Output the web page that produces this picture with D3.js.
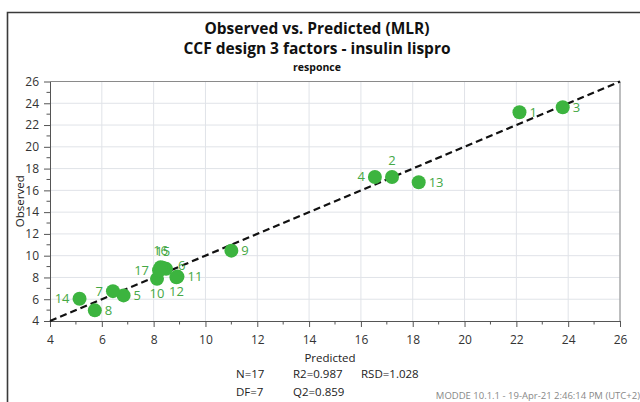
<!DOCTYPE html>
<html>
<head>
<meta charset="utf-8">
<script src="https://cdn.jsdelivr.net/npm/d3@7"></script>
<style>
  body { margin: 0; background: #fff; }
  svg { display: block; font-family: 'Open Sans', 'Noto Sans', sans-serif; }
</style>
</head>
<body>
<svg id="chart"></svg>
<script>
// run numbers, predicted (x) and observed (y) values
const runs = [1, 2, 3, 4, 5, 6, 7, 8, 9, 10, 11, 12, 13, 14, 15, 16, 17]
const predicted = [22.12, 17.2, 23.79, 16.54, 6.84, 8.48, 6.43, 5.73, 11.0, 8.13, 8.92, 8.88, 18.23, 5.14, 8.35, 8.27, 8.21]
const observed = [23.17, 17.23, 23.63, 17.23, 6.35, 8.79, 6.74, 4.98, 10.46, 7.87, 8.08, 8.02, 16.74, 6.04, 8.88, 8.94, 8.66]
// where each run label sits relative to its point
const labelSide = ['right', 'above', 'right', 'left', 'right', 'rightUp', 'left', 'right', 'right', 'below', 'right', 'below', 'right', 'left', 'above', 'above', 'left']

const xTicks = [4, 6, 8, 10, 12, 14, 16, 18, 20, 22, 24, 26]
const yTicks = [4, 6, 8, 10, 12, 14, 16, 18, 20, 22, 24, 26]
const stats = [['N=17', 'R2=0.987', 'RSD=1.028'], ['DF=7', 'Q2=0.859', '']]

const width = 640
const height = 402
const margin = { top: 81.5, right: 20, bottom: 81, left: 50 }

const svg = d3.select('#chart').attr('width', width).attr('height', height)
svg.append('rect').attr('width', width).attr('height', height).attr('fill', '#fff')

// outer frame (runs off the right/bottom edges)
svg.append('path')
  .attr('d', `M7.5,${height + 2}V12.5H${width + 2}`)
  .attr('fill', 'none')
  .attr('stroke', '#3a3a3a')
  .attr('stroke-width', 1.6)

const x = d3.scaleLinear().domain([4, 26]).range([margin.left, width - margin.right])
const y = d3.scaleLinear().domain([4, 26]).range([height - margin.bottom, margin.top])

// grid
const grid = svg.append('g').attr('class', 'grid')
grid.selectAll('.gx').data(xTicks.slice(1)).enter().append('line')
  .attr('x1', d => x(d)).attr('x2', d => x(d))
  .attr('y1', y(4)).attr('y2', y(26))
  .attr('stroke', '#e0e3e8')
grid.selectAll('.gy').data(yTicks.slice(1)).enter().append('line')
  .attr('y1', d => y(d)).attr('y2', d => y(d))
  .attr('x1', x(4)).attr('x2', x(26))
  .attr('stroke', '#e0e3e8')
// plot box top/right
svg.append('path')
  .attr('d', `M${x(4)},${y(26)}H${x(26)}V${y(4)}`)
  .attr('fill', 'none')
  .attr('stroke', '#8a8a8a')

// axes
const minorX = d3.range(5, 26, 2)
const xAxis = svg.append('g').attr('transform', `translate(0,${y(4)})`)
xAxis.call(d3.axisBottom(x).tickValues(xTicks).tickSize(6).tickSizeOuter(0).tickPadding(8))
xAxis.selectAll('.minor').data(minorX).enter().append('line')
  .attr('x1', d => x(d)).attr('x2', d => x(d))
  .attr('y1', 0).attr('y2', 3.5)
  .attr('stroke', '#555')
const yAxis = svg.append('g').attr('transform', `translate(${x(4)},0)`)
yAxis.call(d3.axisLeft(y).tickValues(yTicks).tickSize(6).tickSizeOuter(0).tickPadding(5))
yAxis.selectAll('.minor').data(minorX).enter().append('line')
  .attr('y1', d => y(d)).attr('y2', d => y(d))
  .attr('x1', 0).attr('x2', -3.5)
  .attr('stroke', '#555')
svg.selectAll('.domain').attr('stroke', '#555')
svg.selectAll('.tick line').attr('stroke', '#555')
svg.selectAll('.tick text')
  .attr('font-size', 12)
  .attr('fill', '#333')
  .attr('font-family', "'Open Sans', sans-serif")

// 1:1 line
svg.append('line')
  .attr('x1', x(4)).attr('y1', y(4))
  .attr('x2', x(26)).attr('y2', y(26))
  .attr('stroke', '#111')
  .attr('stroke-width', 2.2)
  .attr('stroke-dasharray', '7,4')

const points = runs.map((r, i) => ({ run: r, px: predicted[i], ob: observed[i], side: labelSide[i] }))

// labels first so the points cover them like the original
const offs = {
  right: [10, 4.5, 'start'],
  rightUp: [12, 1, 'start'],
  left: [-10, 4.5, 'end'],
  above: [0, -12, 'middle'],
  below: [0, 19, 'middle']
}
svg.append('g').selectAll('text').data(points).enter().append('text')
  .attr('x', d => x(d.px) + offs[d.side][0])
  .attr('y', d => y(d.ob) + offs[d.side][1])
  .attr('text-anchor', d => offs[d.side][2])
  .attr('font-size', 13)
  .attr('fill', '#45a845')
  .text(d => d.run)

svg.append('g').selectAll('circle').data(points).enter().append('circle')
  .attr('cx', d => x(d.px))
  .attr('cy', d => y(d.ob))
  .attr('r', 7)
  .attr('fill', '#3cb43f')

// titles
const cx = 317
svg.append('text').attr('x', cx).attr('y', 34).attr('text-anchor', 'middle')
  .attr('font-size', 15.5).attr('font-weight', 'bold').attr('fill', '#111')
  .text('Observed vs. Predicted (MLR)')
svg.append('text').attr('x', cx).attr('y', 54).attr('text-anchor', 'middle')
  .attr('font-size', 15.5).attr('font-weight', 'bold').attr('fill', '#111')
  .text('CCF design 3 factors - insulin lispro')
svg.append('text').attr('x', cx).attr('y', 71).attr('text-anchor', 'middle')
  .attr('font-size', 10.5).attr('font-weight', 'bold').attr('fill', '#111')
  .text('responce')

svg.append('text').attr('x', 330).attr('y', 362).attr('text-anchor', 'middle')
  .attr('font-size', 11.5).attr('fill', '#222').text('Predicted')
svg.append('text')
  .attr('transform', `translate(24,${(y(4) + y(26)) / 2}) rotate(-90)`)
  .attr('text-anchor', 'middle')
  .attr('font-size', 11.5).attr('fill', '#222').text('Observed')

// stats block
const colX = [236, 293, 361]
stats.forEach((row, ri) => {
  row.forEach((s, ci) => {
    svg.append('text').attr('x', colX[ci]).attr('y', 378 + ri * 18)
      .attr('font-size', 11.5).attr('fill', '#222').text(s)
  })
})

svg.append('text').attr('x', 640).attr('y', 399).attr('text-anchor', 'end')
  .attr('font-size', 9.5).attr('fill', '#888')
  .text('MODDE 10.1.1 - 19-Apr-21 2:46:14 PM (UTC+2)')
</script>
</body>
</html>
